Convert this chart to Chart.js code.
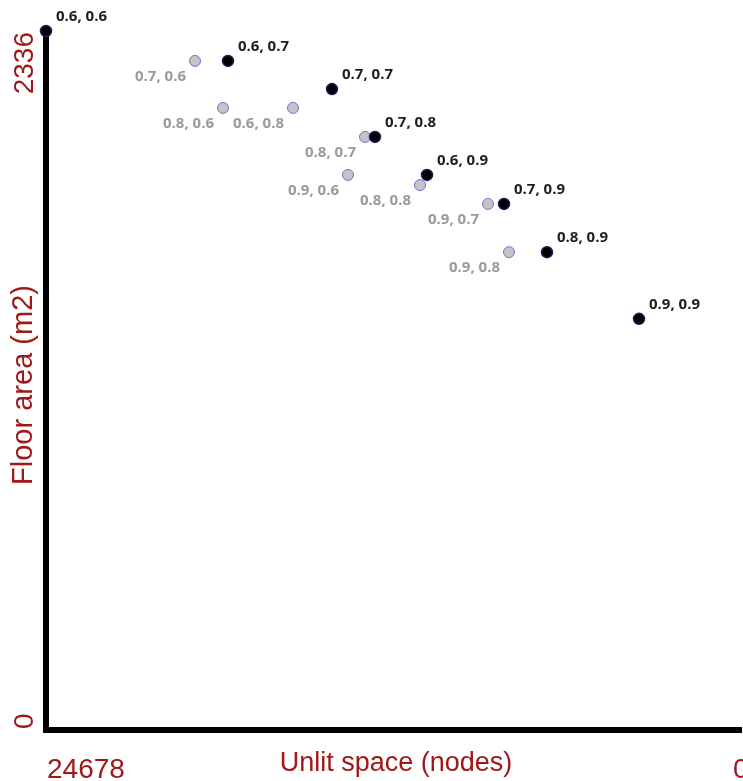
<!DOCTYPE html>
<html>
<head>
<meta charset="utf-8">
<script src="https://cdn.jsdelivr.net/npm/chart.js@4.4.0/dist/chart.umd.min.js"></script>
<style>
  html, body { margin: 0; padding: 0; background: #fff; }
</style>
</head>
<body>
<canvas id="chart" width="743" height="781"></canvas>
<script>
// Axis ranges (x runs from 24678 on the left down to 0 on the right)
const xRange = [0, 24678];
const yRange = [0, 2336];
const xTickLabels = ['24678', '0'];
const yTickLabels = ['0', '2336'];
const xTitle = 'Unlit space (nodes)';
const yTitle = 'Floor area (m2)';

// Black points
const frontLabels = ['0.6, 0.6', '0.6, 0.7', '0.7, 0.7', '0.7, 0.8', '0.6, 0.9', '0.7, 0.9', '0.8, 0.9', '0.9, 0.9'];
const frontX = [24678, 18215, 14523, 12996, 11149, 8415, 6889, 3622];
const frontY = [2336, 2236, 2142, 1982, 1855, 1758, 1597, 1374];

// Grey points
const otherLabels = ['0.7, 0.6', '0.8, 0.6', '0.6, 0.8', '0.8, 0.7', '0.9, 0.6', '0.8, 0.8', '0.9, 0.7', '0.9, 0.8'];
const otherX = [19387, 18393, 15907, 13351, 13955, 11398, 8984, 8238];
const otherY = [2236, 2079, 2079, 1982, 1855, 1821, 1758, 1597];

const RED = '#a01818';

function toPoints(xs, ys) {
    return xs.map((x, i) => ({ x: x, y: ys[i] }));
}

// Point labels: black ones up-right, grey ones down-left
const pointLabels = {
    id: 'pointLabels',
    afterDatasetsDraw(chart) {
        const ctx = chart.ctx;
        ctx.save();
        ctx.font = 'bold 15px "Open Sans"';
        ctx.textBaseline = 'middle';
        chart.data.datasets.forEach((ds, di) => {
            const meta = chart.getDatasetMeta(di);
            meta.data.forEach((pt, i) => {
                if (di === 0) {
                    ctx.fillStyle = '#1e1e1e';
                    ctx.textAlign = 'left';
                    ctx.fillText(ds.labels[i], pt.x + 10, pt.y - 14);
                } else {
                    ctx.fillStyle = '#9a9a9a';
                    ctx.textAlign = 'right';
                    ctx.fillText(ds.labels[i], pt.x - 9, pt.y + 16);
                }
            });
        });
        ctx.restore();
    }
};

// Axis tick labels and titles
const axisText = {
    id: 'axisText',
    afterDraw(chart) {
        const ctx = chart.ctx;
        const xs = chart.scales.x;
        const ys = chart.scales.y;
        const area = chart.chartArea;
        ctx.save();

        // fill the corner where the two thick axis lines meet
        ctx.fillStyle = '#000';
        ctx.fillRect(area.left - 3, area.bottom - 3, 6, 6);

        ctx.fillStyle = RED;
        ctx.textBaseline = 'alphabetic';

        // x ticks
        ctx.font = '28px "Liberation Sans"';
        ctx.textAlign = 'left';
        ctx.fillText(xTickLabels[0], xs.getPixelForValue(xRange[1]) + 1, 778);
        ctx.textAlign = 'left';
        ctx.fillText(xTickLabels[1], xs.getPixelForValue(xRange[0]) - 8, 778);

        // x title
        ctx.font = '27px "Liberation Sans"';
        ctx.textAlign = 'center';
        ctx.fillText(xTitle, 396, 771);

        // y ticks, rotated to read upwards
        ctx.font = '28px "Liberation Sans"';
        ctx.save();
        ctx.translate(33, ys.getPixelForValue(yRange[1]) + 1);
        ctx.rotate(-Math.PI / 2);
        ctx.textAlign = 'right';
        ctx.fillText(yTickLabels[1], 0, 0);
        ctx.restore();

        ctx.save();
        ctx.translate(33, ys.getPixelForValue(yRange[0]) - 1);
        ctx.rotate(-Math.PI / 2);
        ctx.textAlign = 'left';
        ctx.fillText(yTickLabels[0], 0, 0);
        ctx.restore();

        // y title
        ctx.font = '29px "Liberation Sans"';
        ctx.save();
        ctx.translate(32, 385);
        ctx.rotate(-Math.PI / 2);
        ctx.textAlign = 'center';
        ctx.fillText(yTitle, 0, 0);
        ctx.restore();

        ctx.restore();
    }
};

new Chart(document.getElementById('chart'), {
    type: 'scatter',
    data: {
        datasets: [{
            label: 'front',
            labels: frontLabels,
            data: toPoints(frontX, frontY),
            backgroundColor: '#000000',
            borderColor: '#1c1c58',
            borderWidth: 1.5,
            pointRadius: 5.5,
            clip: false
        }, {
            label: 'other',
            labels: otherLabels,
            data: toPoints(otherX, otherY),
            backgroundColor: '#c4c4c4',
            borderColor: 'rgba(95, 95, 215, 0.85)',
            borderWidth: 1,
            pointRadius: 5.5,
            clip: false
        }]
    },
    options: {
        responsive: false,
        animation: false,
        layout: { autoPadding: false, padding: { left: 46, top: 31, right: 2, bottom: 51 } },
        plugins: {
            legend: { display: false },
            tooltip: { enabled: false }
        },
        scales: {
            x: {
                type: 'linear',
                reverse: true,
                min: xRange[0],
                max: xRange[1],
                ticks: { display: false },
                grid: { display: false, drawTicks: false },
                border: { display: true, color: '#000', width: 6 }
            },
            y: {
                type: 'linear',
                min: yRange[0],
                max: yRange[1],
                ticks: { display: false },
                grid: { display: false, drawTicks: false },
                border: { display: true, color: '#000', width: 6 }
            }
        }
    },
    plugins: [pointLabels, axisText]
});
</script>
</body>
</html>
